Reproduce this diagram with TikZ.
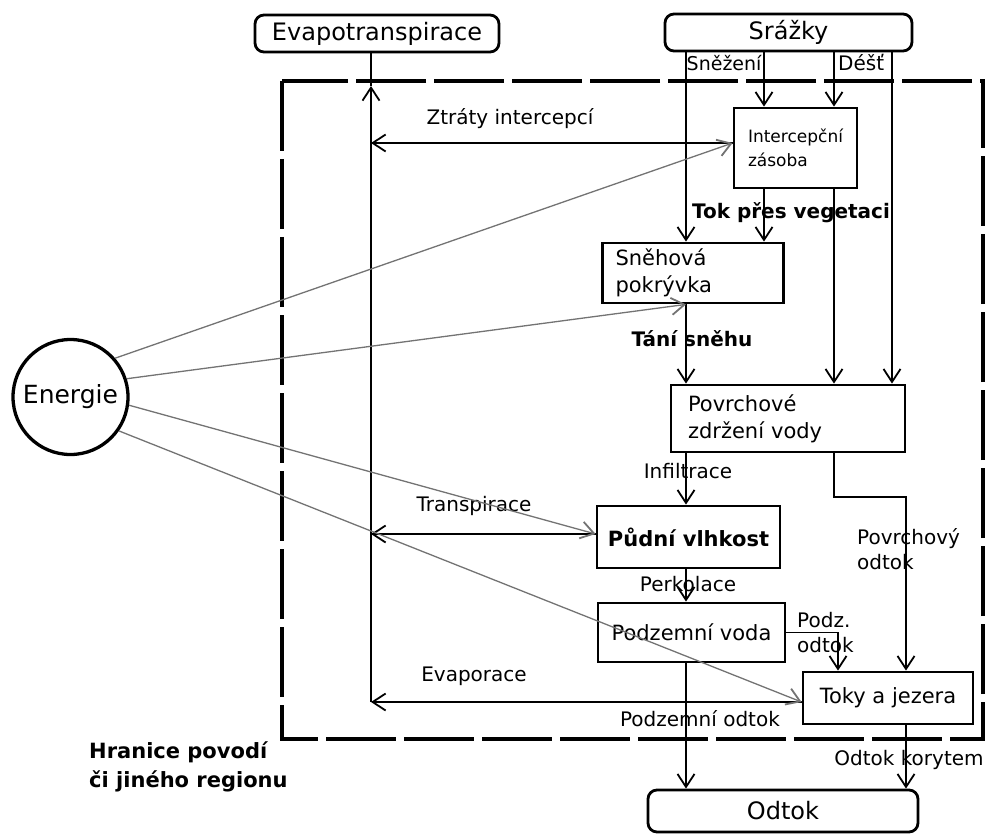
\documentclass[tikz,border=0pt]{standalone}
\usepackage{fontspec}
\setmainfont{DejaVu Sans}
\usetikzlibrary{arrows.meta}

\begin{document}
\begin{tikzpicture}[
    x=1pt, y=-1pt,
    >={Straight Barb[length=13pt,width=17pt,line width=1.8pt]},
    % Styles
    box/.style={draw, line width=2.8pt, inner sep=0pt, font=\fontsize{21}{27}\selectfont},
    leftbox/.style={box, align=left},
    endbox/.style={draw, line width=2.8pt, rounded corners=9pt, inner sep=0pt, font=\fontsize{24}{28}\selectfont},
    flow/.style={->, line width=1.5pt},
    plain/.style={line width=1.5pt},
    energy/.style={->, line width=1.3pt, black!55},
    label/.style={inner sep=0pt, font=\fontsize{20}{25}\selectfont},
    boldlabel/.style={inner sep=0pt, font=\fontsize{20}{25}\selectfont\bfseries},
    boundary/.style={line width=4.2pt, dash pattern=on 70pt off 8pt},
]
\useasboundingbox (0,0) rectangle (987,834);

% Watershed boundary
\draw[boundary] (282,81) rectangle (983,739);
\node[boldlabel, anchor=west, align=left, font=\fontsize{21}{29}\selectfont\bfseries] (hranice) at (89,767) {Hranice povodí\\či jiného regionu};

% Sources and sinks
\node[endbox, minimum width=244pt, minimum height=37pt] (evap) at (377,33.5) {Evapotranspirace};
\node[endbox, minimum width=247pt, minimum height=37pt] (srazky) at (788.5,32.5) {Srážky};
\node[endbox, minimum width=270pt, minimum height=42pt] (odtok) at (783,811) {Odtok};
\node[draw, circle, line width=3.3pt, minimum size=115pt, inner sep=0pt, font=\fontsize{25}{30}\selectfont] (energie) at (70.5,397) {Energie};

% Storages
\node[leftbox, minimum width=123pt, minimum height=80pt, font=\fontsize{17}{24}\selectfont] (intercep) at (795.5,148) {Intercepční\\zásoba};
\node[leftbox, text width=155pt, inner xsep=13pt, minimum height=60pt] (snehova) at (693,273) {Sněhová\\pokrývka};
\node[leftbox, text width=200pt, inner xsep=17pt, minimum height=67pt] (povrch) at (788,418.5) {Povrchové\\zdržení vody};
\node[box, minimum width=183pt, minimum height=62pt, font=\fontsize{21}{25}\selectfont\bfseries] (pudni) at (688.5,537) {Půdní vlhkost};
\node[box, minimum width=187pt, minimum height=59pt] (podzemni) at (691.5,632.5) {Podzemní voda};
\node[box, minimum width=170pt, minimum height=52pt] (toky) at (888,698) {Toky a jezera};

% Columns and bends
\coordinate (c-snez) at (686,0);
\coordinate (c-veg) at (764,0);
\coordinate (c-dest) at (834,0);
\coordinate (c-prim) at (892,0);
\coordinate (c-tok) at (906,0);
\coordinate (povr-knee) at (906,497);
\coordinate (podz-knee) at (838,632.5);
\coordinate (et-top) at (371,86);
\coordinate (et-ztr) at (371,143);
\coordinate (et-tra) at (371,534);
\coordinate (et-evap) at (371,702);

% Precipitation
\draw[flow] (srazky.south -| c-snez) -- (snehova.north -| c-snez);
\draw[flow] (srazky.south -| c-veg) -- (intercep.north -| c-veg);
\draw[flow] (srazky.south -| c-dest) -- (intercep.north -| c-dest);
\draw[flow] (srazky.south -| c-prim) -- (povrch.north -| c-prim);
\node[label, anchor=west, font=\fontsize{19}{24}\selectfont] (l-snez) at (686.5,63) {Sněžení};
\node[label, anchor=west] (l-dest) at (838,63) {Déšť};

% Through the catchment
\draw[flow] (intercep.south -| c-veg) -- (snehova.north -| c-veg);
\draw[flow] (intercep.south -| c-dest) -- (povrch.north -| c-dest);
\draw[flow] (snehova.south -| c-snez) -- (povrch.north -| c-snez);
\draw[flow] (povrch.south -| c-snez) -- (pudni.north -| c-snez);
\draw[flow] (pudni.south -| c-snez) -- (podzemni.north -| c-snez);
\draw[flow] (podzemni.south -| c-snez) -- (odtok.north -| c-snez);
\draw[flow] (povrch.south -| c-dest) |- (povr-knee) -- (toky.north -| povr-knee);
\draw[flow] (podzemni.east |- podz-knee) -| (toky.north -| podz-knee);
\draw[flow] (toky.south -| c-tok) -- (odtok.north -| c-tok);
\node[boldlabel] (l-veg) at (791,213) {Tok přes vegetaci};
\node[boldlabel] (l-tani) at (692,339) {Tání sněhu};
\node[label] (l-inf) at (688,471) {Infiltrace};
\node[label] (l-perk) at (688,584) {Perkolace};
\node[label, anchor=west, align=left] (l-povr) at (857,549) {Povrchový\\odtok};
\node[label, anchor=west, align=left] (l-podz) at (797,633) {Podz.\\odtok};
\node[label] (l-podzod) at (700,719) {Podzemní odtok};
\node[label] (l-kor) at (909,760) {Odtok korytem};

% Evapotranspiration
\draw[plain] (evap.south -| et-top) -- (et-top);
\draw[flow] (et-evap) -- (et-top);
\draw[flow] (intercep.west |- et-ztr) -- (et-ztr);
\draw[flow] (pudni.west |- et-tra) -- (et-tra);
\draw[flow] (toky.west |- et-evap) -- (et-evap);
\node[label] (l-ztr) at (510,119) {Ztráty intercepcí};
\node[label] (l-tra) at (474,506) {Transpirace};
\node[label] (l-evap) at (474,676) {Evaporace};

% Energy input
\draw[energy] (energie.41) -- (intercep.west |- et-ztr);
\draw[energy] (energie.18) -- (snehova.south -| c-snez);
\draw[energy] (energie.-8) -- (pudni.west |- et-tra);
\draw[energy] (energie.-35) -- (toky.west |- et-evap);

\end{tikzpicture}
\end{document}
